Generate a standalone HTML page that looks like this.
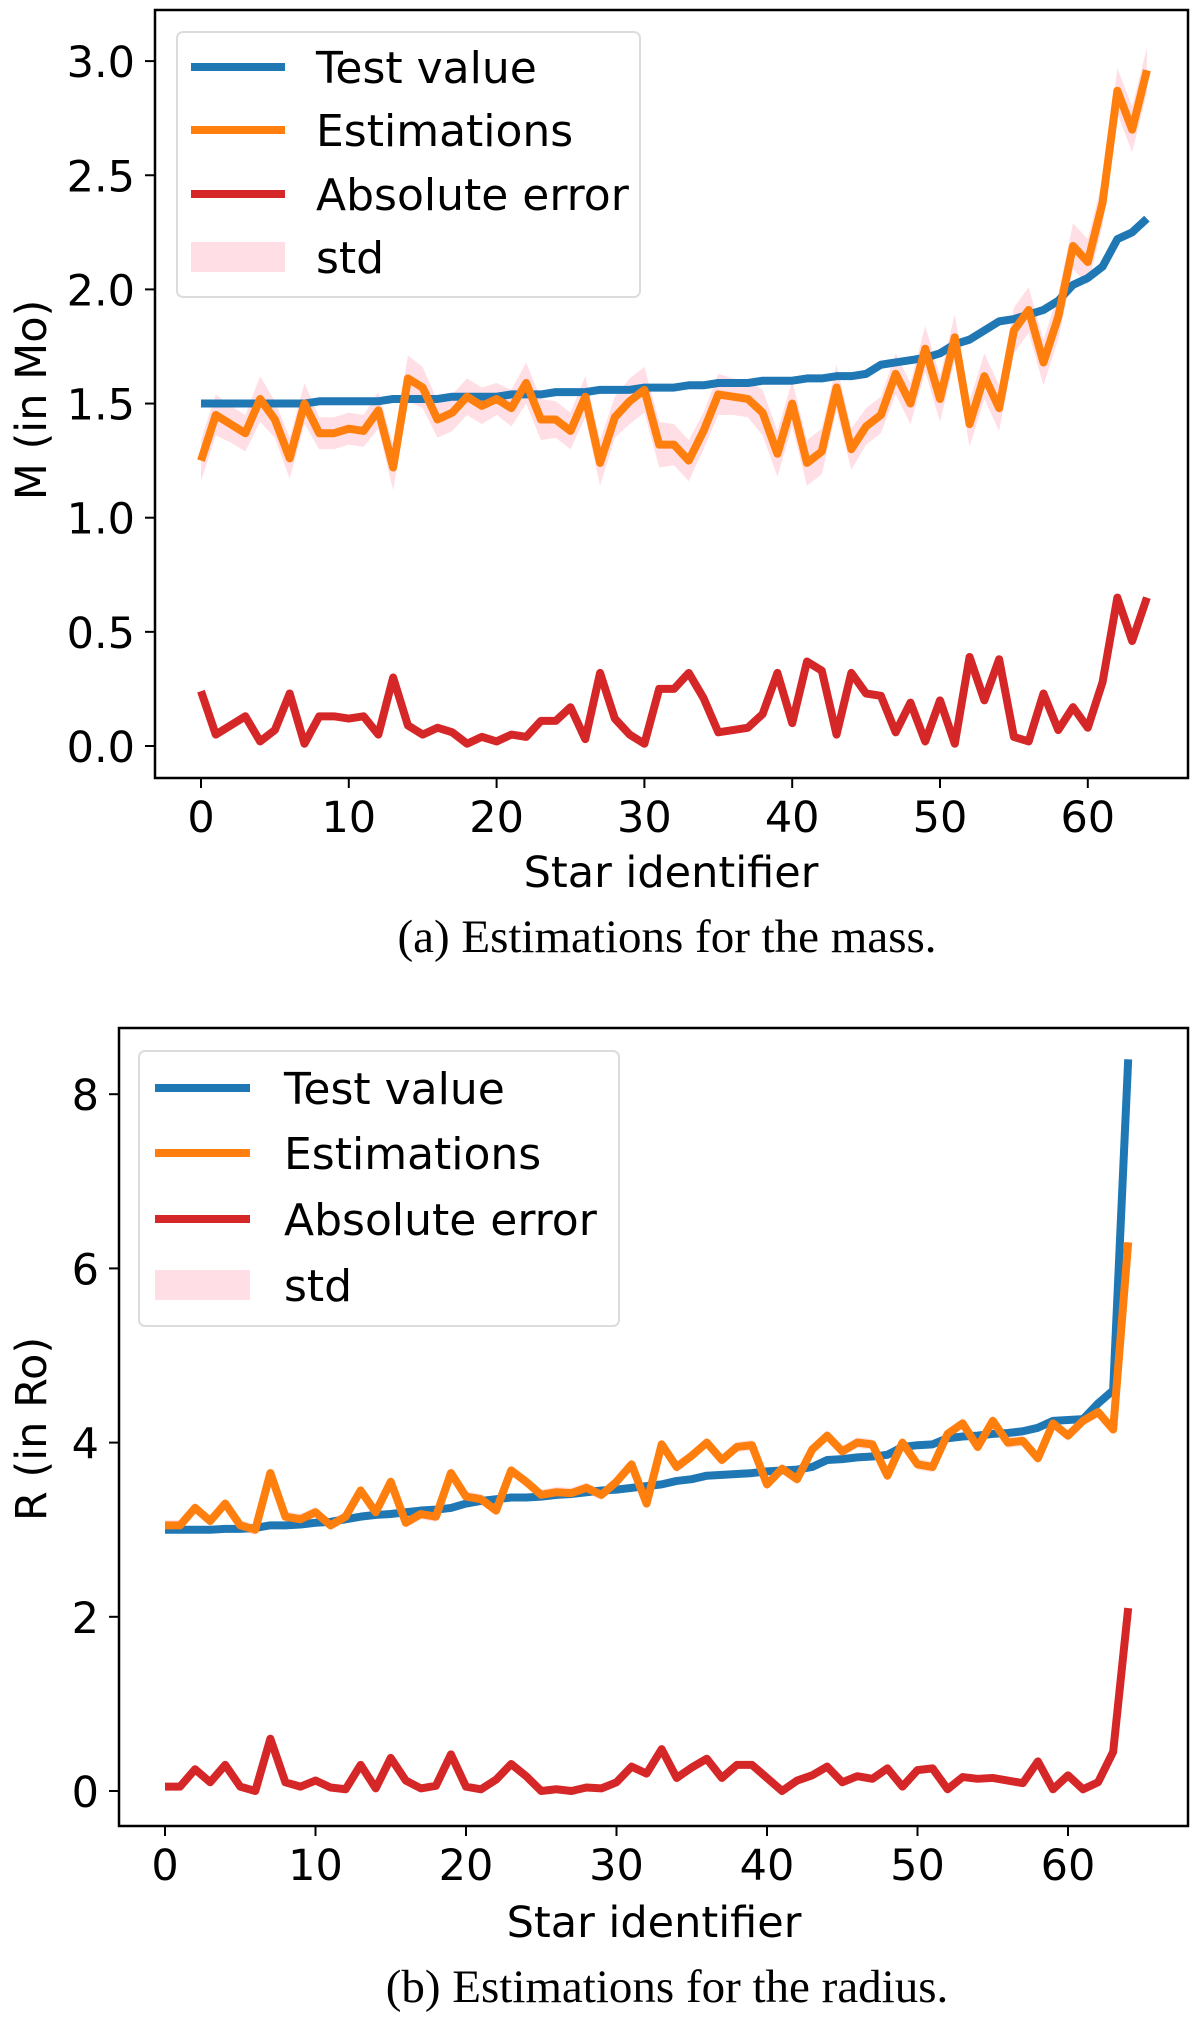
<!DOCTYPE html>
<html><head><meta charset="utf-8"><style>
body{margin:0;background:#fff;}
svg{display:block;}
text{font-family:"DejaVu Sans","Liberation Sans",sans-serif;fill:#000;}
.cap{font-family:"Liberation Serif",serif;}
</style></head><body>
<svg id="fig" width="1200" height="2020" viewBox="0 0 1200 2020" xmlns="http://www.w3.org/2000/svg">
<g id="ga"></g>
<g id="gb"></g>
<text class="cap" x="667" y="952" font-size="47" text-anchor="middle">(a) Estimations for the mass.</text>
<text class="cap" x="667" y="2002" font-size="47" text-anchor="middle">(b) Estimations for the radius.</text>
</svg>
<script>
const massTest=[1.50,1.50,1.50,1.50,1.50,1.50,1.50,1.50,1.51,1.51,1.51,1.51,1.51,1.52,1.52,1.52,1.52,1.53,1.53,1.53,1.53,1.54,1.54,1.54,1.55,1.55,1.55,1.56,1.56,1.56,1.57,1.57,1.57,1.58,1.58,1.59,1.59,1.59,1.60,1.60,1.60,1.61,1.61,1.62,1.62,1.63,1.67,1.68,1.69,1.70,1.72,1.76,1.78,1.82,1.86,1.87,1.89,1.91,1.95,2.02,2.05,2.10,2.22,2.25,2.31];
const massEst=[1.25,1.45,1.41,1.37,1.52,1.43,1.26,1.50,1.37,1.37,1.39,1.38,1.47,1.22,1.61,1.57,1.43,1.46,1.53,1.49,1.52,1.48,1.59,1.43,1.43,1.38,1.53,1.24,1.44,1.51,1.56,1.32,1.32,1.25,1.38,1.54,1.53,1.52,1.46,1.28,1.50,1.24,1.29,1.57,1.30,1.40,1.45,1.63,1.50,1.74,1.52,1.79,1.41,1.62,1.48,1.82,1.91,1.68,1.88,2.19,2.12,2.38,2.87,2.70,2.96];
const massErr=[0.24,0.05,0.09,0.13,0.02,0.07,0.23,0.01,0.13,0.13,0.12,0.13,0.05,0.30,0.09,0.05,0.08,0.06,0.01,0.04,0.02,0.05,0.04,0.11,0.11,0.17,0.03,0.32,0.12,0.05,0.01,0.25,0.25,0.32,0.21,0.06,0.07,0.08,0.14,0.32,0.10,0.37,0.33,0.05,0.32,0.23,0.22,0.06,0.19,0.02,0.20,0.01,0.39,0.20,0.38,0.04,0.02,0.23,0.07,0.17,0.08,0.28,0.65,0.46,0.65];
const massStd=[0.09,0.09,0.08,0.08,0.1,0.08,0.09,0.09,0.07,0.07,0.07,0.07,0.08,0.1,0.1,0.09,0.08,0.08,0.08,0.08,0.07,0.08,0.09,0.09,0.08,0.08,0.09,0.1,0.09,0.1,0.1,0.1,0.09,0.09,0.08,0.09,0.08,0.08,0.1,0.1,0.1,0.1,0.1,0.1,0.09,0.08,0.08,0.09,0.09,0.1,0.1,0.1,0.1,0.1,0.1,0.1,0.1,0.1,0.1,0.1,0.1,0.1,0.1,0.1,0.1];
const massYTicks=[0,0.5,1.0,1.5,2.0,2.5,3.0];
const massYLabels=["0.0","0.5","1.0","1.5","2.0","2.5","3.0"];
const radTest=[3.0,3.0,3.0,3.0,3.01,3.01,3.02,3.05,3.05,3.06,3.08,3.09,3.12,3.15,3.17,3.18,3.2,3.22,3.23,3.25,3.3,3.33,3.35,3.37,3.37,3.38,3.4,3.41,3.43,3.45,3.46,3.48,3.5,3.52,3.56,3.58,3.62,3.63,3.64,3.65,3.67,3.68,3.69,3.72,3.8,3.81,3.83,3.84,3.86,3.95,3.97,3.98,4.05,4.07,4.08,4.1,4.11,4.13,4.17,4.25,4.26,4.27,4.45,4.6,8.4];
const radEst=[3.05,3.05,3.25,3.1,3.3,3.05,3.0,3.65,3.15,3.12,3.2,3.05,3.15,3.45,3.2,3.55,3.08,3.18,3.15,3.65,3.38,3.35,3.22,3.68,3.55,3.4,3.43,3.42,3.48,3.4,3.55,3.75,3.3,3.98,3.72,3.85,4.0,3.8,3.95,3.97,3.52,3.7,3.58,3.92,4.08,3.9,4.0,3.98,3.62,4.0,3.75,3.72,4.1,4.22,3.95,4.25,4.0,4.02,3.82,4.22,4.08,4.25,4.35,4.15,6.3];
const radErr=[0.05,0.05,0.25,0.1,0.3,0.05,0.0,0.6,0.1,0.05,0.12,0.04,0.02,0.3,0.03,0.38,0.12,0.03,0.06,0.42,0.05,0.02,0.13,0.31,0.17,0.0,0.02,0.0,0.04,0.03,0.1,0.28,0.2,0.48,0.15,0.27,0.37,0.15,0.3,0.3,0.15,0.0,0.12,0.18,0.28,0.1,0.17,0.14,0.26,0.05,0.24,0.26,0.02,0.16,0.14,0.15,0.12,0.09,0.34,0.02,0.18,0.02,0.1,0.45,2.1];
const radStd=radEst.map(()=>0.06);
const radYTicks=[0,2,4,6,8];
const radYLabels=["0","2","4","6","8"];
const xTicks=[0,10,20,30,40,50,60];
const xLabels=["0","10","20","30","40","50","60"];

const NS="http://www.w3.org/2000/svg";
function mk(parent,tag,attrs){const e=document.createElementNS(NS,tag);for(const k in attrs)e.setAttribute(k,attrs[k]);parent.appendChild(e);return e;}

function draw(g,cfg){
  const xS=v=>cfg.x0+(v)*cfg.xu;
  const yS=v=>cfg.y0-v*cfg.yu;
  let up=cfg.est.map((v,i)=>xS(i)+","+yS(v+cfg.std[i]));
  let dn=cfg.est.map((v,i)=>xS(i)+","+yS(v-cfg.std[i])).reverse();
  const band=mk(g,"polygon",{points:up.concat(dn).join(" "),fill:"#ffc0cb",opacity:"0.5"});
  
  
  const series=[[cfg.test,"#1f77b4","test-value-line"],[cfg.est,"#ff7f0e","estimations-line"],[cfg.err,"#d62728","absolute-error-line"]];
  series.forEach(s=>{
    const p=mk(g,"polyline",{points:s[0].map((v,i)=>xS(i)+","+yS(v)).join(" "),fill:"none",stroke:s[1],"stroke-width":"8","stroke-linejoin":"round"});
    
    
  });
  const box=mk(g,"rect",{x:cfg.L,y:cfg.T,width:cfg.R-cfg.L,height:cfg.B-cfg.T,fill:"none",stroke:"#000","stroke-width":"2.5"});
  
  
  xTicks.forEach((t,i)=>{
    mk(g,"line",{x1:xS(t),x2:xS(t),y1:cfg.B,y2:cfg.B+10,stroke:"#000","stroke-width":"2"});
    const tx=mk(g,"text",{x:xS(t),y:cfg.B+54,"font-size":"43","text-anchor":"middle"});
    tx.textContent=xLabels[i];
    
    
  });
  cfg.yt.forEach((t,i)=>{
    mk(g,"line",{x1:cfg.L-10,x2:cfg.L,y1:yS(t),y2:yS(t),stroke:"#000","stroke-width":"2"});
    const tx=mk(g,"text",{x:cfg.L-20,y:yS(t)+16,"font-size":"43","text-anchor":"end"});
    tx.textContent=cfg.yl[i];
    
    
  });
  const xl=mk(g,"text",{x:cfg.xlx,y:cfg.xly,"font-size":"43","text-anchor":"middle"});
  xl.textContent="Star identifier";
  
  
  const yl=mk(g,"text",{x:0,y:0,"font-size":"43","text-anchor":"middle",transform:`translate(46,${cfg.yly}) rotate(-90)`});
  yl.textContent=cfg.ytitle;
  
  
  const lg=mk(g,"g",{});
  
  
  const lb=cfg.leg;
  mk(lg,"rect",{x:lb.x,y:lb.y,width:lb.w,height:lb.h,rx:"6",fill:"#fff","fill-opacity":"0.85",stroke:"#dcdcdc","stroke-width":"2"});
  const items=[["Test value","#1f77b4"],["Estimations","#ff7f0e"],["Absolute error","#d62728"],["std","#ffc0cb"]];
  items.forEach((it,i)=>{
    const y=lb.ey[i];
    if(i<3) mk(lg,"line",{x1:lb.hx1,x2:lb.hx2,y1:y,y2:y,stroke:it[1],"stroke-width":"8"});
    else mk(lg,"rect",{x:lb.hx1,y:y-15,width:lb.hx2-lb.hx1,height:30,fill:"#ffc0cb",opacity:"0.5"});
    const t=mk(lg,"text",{x:lb.tx,y:y+16,"font-size":"44"});
    t.textContent=it[0];
    
    
  });
}
draw(document.getElementById("ga"),{test:massTest,est:massEst,err:massErr,std:massStd,yt:massYTicks,yl:massYLabels,
  x0:201,xu:14.78,y0:746,yu:228.3,L:155,R:1188,T:10,B:778,xlx:671,xly:887,yly:400,ytitle:"M (in Mo)",
  leg:{x:177,y:32,w:463,h:265,hx1:191,hx2:285,tx:316,ey:[67,130,194,257]}});
draw(document.getElementById("gb"),{test:radTest,est:radEst,err:radErr,std:radStd,yt:radYTicks,yl:radYLabels,
  x0:165,xu:15.05,y0:1791,yu:87.1,L:119,R:1188,T:1028,B:1826,xlx:654,xly:1937,yly:1429,ytitle:"R (in Ro)",
  leg:{x:139,y:1051,w:480,h:275,hx1:155,hx2:250,tx:284,ey:[1088,1153,1219,1285]}});
</script>
</body></html>
